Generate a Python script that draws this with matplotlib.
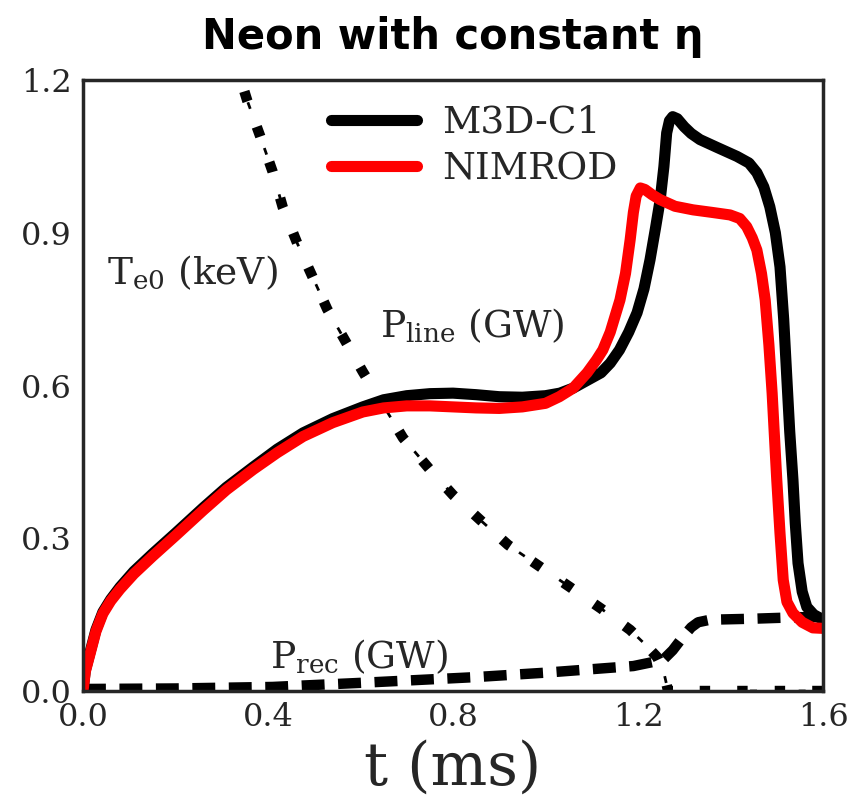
import matplotlib
matplotlib.use('Agg')
import matplotlib.pyplot as plt

# line radiation power, M3D-C1 (GW)
t_m3d = [0.0, 0.005, 0.015, 0.028, 0.043, 0.06, 0.08, 0.11, 0.151, 0.2, 0.26, 0.31,
         0.368, 0.42, 0.476, 0.54, 0.605, 0.65, 0.7, 0.75, 0.8, 0.85, 0.9, 0.95,
         1.0, 1.031, 1.06, 1.09, 1.12, 1.14, 1.16, 1.18, 1.198, 1.213, 1.226, 1.238,
         1.248, 1.256, 1.262, 1.268, 1.275, 1.285, 1.30, 1.315, 1.334, 1.37, 1.414, 1.44,
         1.457, 1.472, 1.485, 1.497, 1.507, 1.515, 1.522, 1.528, 1.535, 1.54, 1.546, 1.555,
         1.565, 1.58, 1.594, 1.6]
p_m3d = [0.0, 0.04, 0.075, 0.12, 0.155, 0.18, 0.204, 0.235, 0.27, 0.31, 0.36, 0.40,
         0.44, 0.475, 0.507, 0.535, 0.558, 0.572, 0.58, 0.584, 0.585, 0.582, 0.578, 0.577,
         0.58, 0.585, 0.595, 0.61, 0.625, 0.644, 0.67, 0.705, 0.743, 0.79, 0.847, 0.91,
         0.965, 1.03, 1.096, 1.12, 1.128, 1.124, 1.108, 1.095, 1.083, 1.068, 1.05, 1.037,
         1.018, 0.99, 0.951, 0.9, 0.833, 0.73, 0.611, 0.51, 0.415, 0.33, 0.251, 0.195,
         0.165, 0.15, 0.143, 0.142]

# line radiation power, NIMROD (GW)
t_nim = [0.0, 0.005, 0.015, 0.028, 0.043, 0.06, 0.08, 0.11, 0.151, 0.2, 0.26, 0.31,
         0.368, 0.42, 0.476, 0.54, 0.605, 0.65, 0.7, 0.75, 0.8, 0.85, 0.9, 0.95,
         1.0, 1.03, 1.06, 1.09, 1.11, 1.124, 1.14, 1.161, 1.173, 1.183, 1.19, 1.196,
         1.205, 1.215, 1.23, 1.248, 1.28, 1.319, 1.36, 1.399, 1.42, 1.435, 1.447, 1.457,
         1.467, 1.475, 1.483, 1.49, 1.495, 1.5, 1.507, 1.514, 1.522, 1.535, 1.555, 1.578,
         1.6]
p_nim = [0.0, 0.038, 0.072, 0.117, 0.152, 0.177, 0.2, 0.23, 0.265, 0.305, 0.355, 0.395,
         0.435, 0.468, 0.5, 0.527, 0.548, 0.556, 0.56, 0.56, 0.558, 0.556, 0.555, 0.558,
         0.565, 0.578, 0.595, 0.625, 0.65, 0.67, 0.705, 0.768, 0.82, 0.886, 0.94, 0.972,
         0.988, 0.985, 0.975, 0.965, 0.952, 0.945, 0.94, 0.935, 0.928, 0.912, 0.89, 0.866,
         0.82, 0.768, 0.68, 0.585, 0.5, 0.415, 0.31, 0.218, 0.175, 0.153, 0.135, 0.124,
         0.123]

# central electron temperature (keV)
t_te = [0.0, 0.1, 0.2, 0.3, 0.355, 0.383, 0.41, 0.432, 0.463, 0.528, 0.605, 0.65,
        0.692, 0.75, 0.80, 0.86, 0.919, 0.99, 1.053, 1.12, 1.183, 1.215, 1.241, 1.255,
        1.265, 1.3, 1.4, 1.5, 1.6]
te0 = [2.6, 2.0, 1.6, 1.32, 1.16, 1.09, 1.02, 0.95, 0.88, 0.75, 0.627, 0.56,
       0.497, 0.435, 0.385, 0.335, 0.287, 0.243, 0.204, 0.162, 0.12, 0.092, 0.067, 0.04,
       0.0, 0.0, 0.0, 0.0, 0.0]

# recombination power (GW)
t_rec = [0.0, 0.2, 0.41, 0.6, 0.843, 1.0, 1.19, 1.254, 1.275, 1.297, 1.315, 1.33,
         1.356, 1.45, 1.55, 1.6]
p_rec = [0.004, 0.005, 0.008, 0.016, 0.027, 0.036, 0.049, 0.061, 0.08, 0.106, 0.125, 0.135,
         0.14, 0.142, 0.145, 0.145]

dark = '#262626'
plt.rcParams['font.family'] = 'DejaVu Serif'
plt.rcParams['mathtext.default'] = 'regular'

fig = plt.figure(figsize=(8.59, 7.97), dpi=100)
ax = fig.add_axes([0.0966, 0.133, 0.8615, 0.7666])

ax.plot(t_m3d, p_m3d, color='black', lw=8, solid_capstyle='round', label='M3D-C1', zorder=3)
ax.plot(t_nim, p_nim, color='red', lw=8, solid_capstyle='round', label='NIMROD', zorder=4)

# Te0: thick dotted + thin dashed overlaid
ax.plot(t_te, te0, color='black', lw=7.5, linestyle=(1.5, (1.0, 2.6)), zorder=2)
ax.plot(t_te, te0, color='black', lw=2, linestyle=(-4, (2.5, 15.0)), zorder=2)

ax.plot(t_rec, p_rec, color='black', lw=7.5, linestyle=(0, (2.2, 1.3)), zorder=2)

ax.text(0.052, 0.80, r'T$_{e0}$ (keV)', fontsize=27, color=dark)
ax.text(0.642, 0.694, r'P$_{line}$ (GW)', fontsize=27, color=dark)
ax.text(0.404, 0.045, r'P$_{rec}$ (GW)', fontsize=27, color=dark)

ax.set_xlim(0, 1.6)
ax.set_ylim(0, 1.2)
ax.set_xticks([0.0, 0.4, 0.8, 1.2, 1.6])
ax.set_yticks([0.0, 0.3, 0.6, 0.9, 1.2])
ax.tick_params(length=0, pad=8, labelsize=23, colors=dark)
for sp in ax.spines.values():
    sp.set_color(dark)
    sp.set_linewidth(2.5)
    sp.set_zorder(5)

ax.set_xlabel('t (ms)', fontsize=43, color=dark, labelpad=4)
ax.set_title('Neon with constant η', fontsize=30, fontweight='bold',
             family='DejaVu Sans', pad=22)

leg = ax.legend(loc='upper left', bbox_to_anchor=(0.31, 0.99), frameon=False,
                fontsize=27, handlelength=2.3, handletextpad=0.65, labelspacing=0.28,
                borderpad=0)
for txt in leg.get_texts():
    txt.set_color(dark)

fig.savefig('out.png', dpi=100)
